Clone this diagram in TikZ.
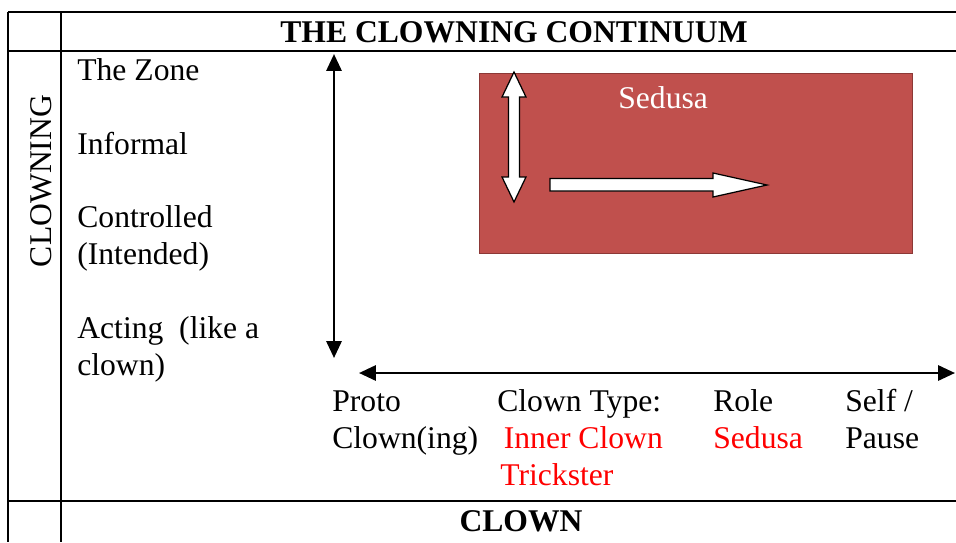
\documentclass[tikz,border=0pt]{standalone}
\usepackage{fontspec}
\setmainfont{Liberation Serif}
\usetikzlibrary{arrows.meta}
\definecolor{sedusared}{HTML}{C0504D}
\definecolor{boxedge}{HTML}{8C3836}

\begin{document}
\begin{tikzpicture}[x=0.02cm, y=-0.02cm,
  lbl/.style={anchor=base west, inner sep=0, align=left, font=\fontsize{18}{21}\selectfont},
  redlbl/.style={lbl, text=red},
  hdr/.style={anchor=base, inner sep=0, font=\fontsize{18}{21}\selectfont\bfseries},
  axis/.style={line width=1.6pt, {Triangle[length=9.6pt,width=8.5pt]}-{Triangle[length=9.6pt,width=8.5pt]}},
  blockarrow/.style={fill=white, draw=black, line width=0.7pt}]
\useasboundingbox (0,0) rectangle (956,542);

% table rules
\draw[line width=1.1pt] (8,12) -- (956,12) (8,51) -- (956,51) (8,501) -- (956,501);
\draw[line width=1.1pt] (8,12) -- (8,542) (61,12) -- (61,542);

\node (title) [hdr] at (514,42) {THE CLOWNING CONTINUUM};
\node (clown) [hdr] at (521,531) {CLOWN};
\node (clowning) [lbl, anchor=center, rotate=90] at (41,181) {CLOWNING};

% clowning levels (multi-line nodes sit on their last baseline)
\node (zone) [lbl] at (77,80) {The Zone};
\node (informal) [lbl] at (77,154) {Informal};
\node (controlled) [lbl] at (77,264) {Controlled\\(Intended)};
\node (acting) [lbl] at (77,375) {Acting\ \ (like a\\clown)};

% clown types
\node (proto) [lbl] at (332,448) {Proto\\Clown(ing)};
\node (ctype) [lbl] at (497,411) {Clown Type:};
\node (inner) [redlbl] at (500,485) {\hspace{2pt}Inner Clown\\Trickster};
\node (role) [lbl] at (713,411) {Role};
\node (rolesedusa) [redlbl] at (713,448) {Sedusa};
\node (self) [lbl] at (845,448) {Self /\\Pause};

% the sedusa field
\fill[sedusared, draw=boxedge, line width=0.4pt] (479,73) rectangle (912,253);
\node (sedusa) [lbl, text=white] at (618,108) {Sedusa};

\draw[blockarrow] (514,72) -- (526,97) -- (519.5,97) -- (519.5,177) -- (526,177) -- (514,202)
  -- (502,177) -- (508.5,177) -- (508.5,97) -- (502,97) -- cycle;
\draw[blockarrow] (550,178.5) -- (713,178.5) -- (713,173) -- (767,185) -- (713,197)
  -- (713,191) -- (550,191) -- cycle;

% axes
\coordinate (vtop) at (334,54);
\coordinate (vbot) at (334,358);
\coordinate (hleft) at (359,373);
\coordinate (hright) at (955,373);
\draw[axis, black!15, shift={(1.5,2.5)}] (vtop) -- (vbot);
\draw[axis, black!15, shift={(1.5,2.5)}] (hleft) -- (hright);
\draw[axis] (vtop) -- (vbot);
\draw[axis] (hleft) -- (hright);
\end{tikzpicture}
\end{document}
